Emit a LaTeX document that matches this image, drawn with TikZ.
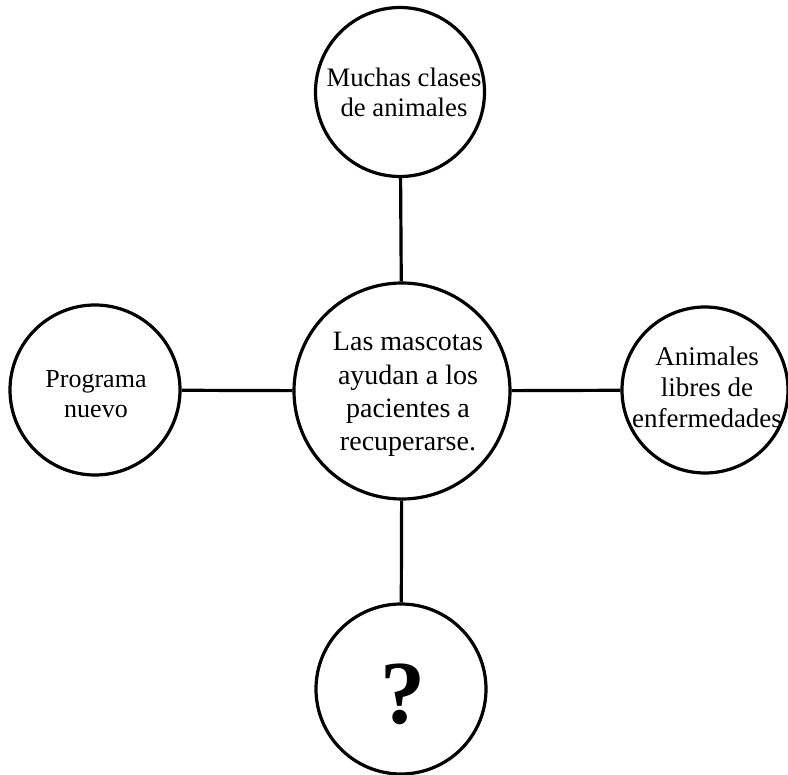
\documentclass[tikz,border=0pt]{standalone}
\usepackage{fontspec}
\setmainfont{Liberation Serif}
\begin{document}
\begin{tikzpicture}
  [x=1pt,y=-1pt,line width=3.2pt,
   bubble/.style={circle,draw,inner sep=0pt,minimum size=#1},
   txt/.style args={#1/#2}{align=center,inner sep=0pt,font=\fontsize{#1}{#2}\selectfont}]
  \useasboundingbox (0,0) rectangle (788,775);
  \node (n1)[bubble=216pt] at (402,391) {};
  \node (n2)[bubble=169pt] at (400,92)  {};
  \node (n3)[bubble=170pt] at (95,390)  {};
  \node (n4)[bubble=166pt] at (705,390) {};
  \node (n5)[bubble=170pt] at (401,689) {};
  \node (t1)[txt=28/33.3] at (408,394.5) {Las mascotas\\ayudan a los\\pacientes a\\recuperarse.};
  \node (t2)[txt=26.7/30] at (404,92.6) {Muchas clases\\de animales};
  \node (t3)[txt=26/30.3] at (96,394) {Programa\\nuevo};
  \node (t4)[txt=27/31] at (707,387) {Animales\\libres de\\enfermedades};
  \node (t5)[inner sep=0pt,font=\fontsize{90}{90}\selectfont\bfseries] at (403,694) {?};
 \foreach \from/\to in {n1/n2,n1/n3,n1/n4,n1/n5}
    \draw (\from) -- (\to);
\end{tikzpicture}
\end{document}
